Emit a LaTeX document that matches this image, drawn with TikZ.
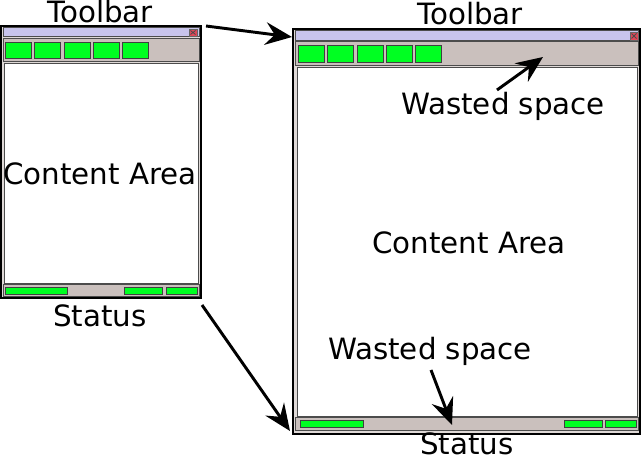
\documentclass[tikz,border=0pt]{standalone}
\usepackage{fontspec}
\setmainfont{DejaVu Sans}
\usepackage{xcolor}
\usetikzlibrary{arrows.meta}

\definecolor{titlebar}{RGB}{200,196,236}
\definecolor{toolgrey}{RGB}{202,192,189}
\definecolor{btngreen}{RGB}{0,255,34}
\definecolor{closered}{RGB}{224,72,88}

\begin{document}
\begin{tikzpicture}[x=0.75pt,y=0.75pt,yscale=-1,xscale=1,
  frame/.style={draw=black,line width=1.5pt,fill=toolgrey!60},
  panel/.style={draw=black!70,line width=0.75pt},
  btn/.style={draw=black!75,line width=0.75pt,fill=btngreen},
  closebtn/.style={draw=black!60,line width=0.5pt,fill=closered},
  lbl/.style={inner sep=0.75pt,font=\fontsize{22}{26}\selectfont},
  arr/.style={line width=2.2pt,-{Stealth[length=20pt,width=17pt,inset=7pt]}}]
\useasboundingbox (0,0) rectangle (643,459);

%Small window
\draw[frame] (1,26) rectangle (201,298);
\draw[panel,fill=titlebar] (3,28) rectangle (199,37);
\draw[closebtn] (189,29) rectangle (197,36);
\draw[black!70,line width=0.6pt] (190.5,30.5) -- (195.5,34.5) (190.5,34.5) -- (195.5,30.5);
\draw[panel,fill=toolgrey] (3,39) rectangle (199,62);
\foreach \bx in {5,34,64,93,122}
  \draw[btn] (\bx,43) rectangle ++(26,16);
\draw[panel,fill=white] (4,64) rectangle (198,284);
\draw[panel,fill=toolgrey] (3,285) rectangle (199,297);
\draw[btn] (5,288) rectangle (67,295);
\draw[btn] (124,288) rectangle (162,295);
\draw[btn] (166,288) rectangle (197,295);

%Large window
\draw[frame] (293,29) rectangle (640,434);
\draw[panel,fill=titlebar] (295,31) rectangle (638,41);
\draw[closebtn] (630,32) rectangle (638,40);
\draw[black!70,line width=0.6pt] (631.5,33.5) -- (636.5,38.5) (631.5,38.5) -- (636.5,33.5);
\draw[panel,fill=toolgrey] (295,42) rectangle (638,66);
\foreach \bx in {298,327,357,386,415}
  \draw[btn] (\bx,46) rectangle ++(26,17);
\draw[panel,fill=white] (297,68) rectangle (637,417);
\draw[panel,fill=toolgrey] (295,418) rectangle (638,431);
\draw[btn] (300,421) rectangle (363,428);
\draw[btn] (564,421) rectangle (602,428);
\draw[btn] (605,421) rectangle (636,428);

% Text Nodes
\node[lbl] (smalltool) at (100,12) {Toolbar};
\node[lbl] (smallcontent) at (100,174) {Content Area};
\node[lbl] (smallstatus) at (100,316) {Status};
\node[lbl] (bigtool) at (470,14) {Toolbar};
\node[lbl] (bigcontent) at (469,243) {Content Area};
\node[lbl] (bigstatus) at (467,444) {Status};
\node[lbl] (wastetop) at (503,106) {Wasted space};
\node[lbl] (wastebot) at (430,351) {Wasted space};

% Arrow ends
\coordinate (smalltop) at (206,26);
\coordinate (bigtop) at (292,37);
\coordinate (smallbot) at (202,305);
\coordinate (bigbot) at (290,431);
\coordinate (wastetopfrom) at (497,90);
\coordinate (wastetopto) at (543,57);
\coordinate (wastebotfrom) at (431,370);
\coordinate (wastebotto) at (452,425);

\draw[arr] (smalltop) -- (bigtop);
\draw[arr] (smallbot) -- (bigbot);
\draw[arr] (wastetopfrom) -- (wastetopto);
\draw[arr] (wastebotfrom) -- (wastebotto);
\end{tikzpicture}
\end{document}
